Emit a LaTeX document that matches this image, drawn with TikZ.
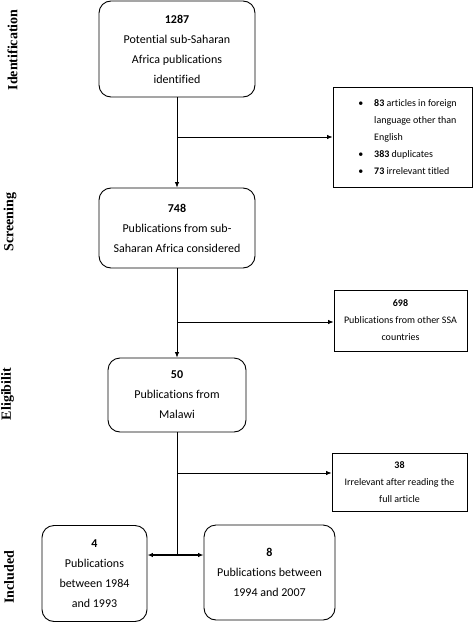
\documentclass[tikz,border=0pt]{standalone}
\usepackage{fontspec}
\setmainfont{Carlito}[Ligatures=NoCommon]
\newfontfamily\sideserif{Liberation Serif}
\usetikzlibrary{arrows.meta}
\begin{document}
\begin{tikzpicture}[x=1pt,y=-1pt,
  mainbox/.style={draw, rounded corners=12pt, line width=0.9pt, align=center, font=\fontsize{12}{20}\selectfont, inner sep=0pt},
  sidebox/.style={draw, line width=0.9pt, align=center, font=\fontsize{10}{17}\selectfont, inner sep=0pt},
  phase/.style={rotate=90, font=\sideserif\bfseries\fontsize{14}{16}\selectfont, inner sep=0pt},
  conn/.style={line width=0.8pt},
  tip/.tip={Latex[length=5.5pt,width=4.5pt]},
  arr/.style={conn, -tip}]
\useasboundingbox (0,0) rectangle (473,623);
% main boxes
\node[mainbox, minimum width=156, minimum height=96] (b1) at (177,49) {\textbf{1287}\\Potential sub-Saharan\\Africa publications\\identified};
\node[mainbox, minimum width=156, minimum height=80] (b2) at (177,228) {\textbf{748}\\Publications from sub-\\Saharan Africa considered};
\node[mainbox, minimum width=138, minimum height=74] (b3) at (177,395) {\textbf{50}\\Publications from\\Malawi};
\node[mainbox, minimum width=105, minimum height=96] (b4) at (94.5,573.5) {\textbf{4}\\Publications\\between 1984\\and 1993};
\node[mainbox, minimum width=131, minimum height=95] (b5) at (269.5,572.5) {\textbf{8}\\Publications between\\1994 and 2007};
% side boxes
\node[sidebox, minimum width=139, minimum height=100] (s1) at (402.5,137) {\begin{tabular}{@{\hspace{22pt}}c@{\hspace{11pt}}l@{}}%
\textbullet & \textbf{83} articles in foreign\\
 & language other than\\
 & English\\
\textbullet & \textbf{383} duplicates\\
\textbullet & \textbf{73} irrelevant titled\end{tabular}\hspace{12pt}};
\node[sidebox, minimum width=133, minimum height=61] (s2) at (400.5,320.5) {\textbf{698}\\Publications from other SSA\\countries};
\node[sidebox, minimum width=135, minimum height=58] (s3) at (399.5,482) {\textbf{38}\\Irrelevant after reading the\\full article};
% phase labels
\node[phase] (p1) at (12.5,50) {Identification};
\node[phase] (p2) at (10,222) {Screening};
\node[phase] (p3) at (7.5,394) {Eligibilit};
\node[phase] (p4) at (9,577) {Included};
% junctions
\coordinate (j1) at (177,137);
\coordinate (j2) at (177,322);
\coordinate (j3) at (177,473);
\coordinate (j4) at (177,555);
% connectors
\draw[arr] (b1) -- (b2);
\draw[arr] (j1) -- (j1 -| s1.west);
\draw[arr] (b2) -- (b3);
\draw[arr] (j2) -- (j2 -| s2.west);
\draw[conn] (b3) -- (j4);
\draw[arr] (j3) -- (j3 -| s3.west);
\draw[conn, line width=1.2pt, tip-tip] (j4 -| b4.east) -- (j4 -| b5.west);
\end{tikzpicture}
\end{document}
